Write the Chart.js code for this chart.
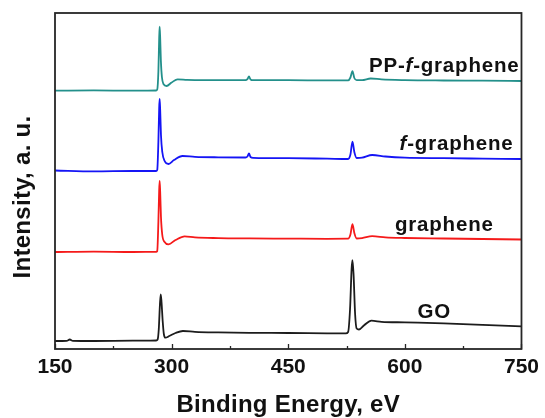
<!DOCTYPE html>
<html><head><meta charset="utf-8">
<script src="https://cdn.jsdelivr.net/npm/chart.js@4"></script>
<style>html,body{margin:0;padding:0;background:#fff}</style>
</head><body>
<canvas id="c" width="545" height="418"></canvas>
<script>
// ---- data (arbitrary intensity units, curves offset) ----
const xTicks = [150, 300, 450, 600, 750];
const xMinorTicks = [225, 375, 525, 675];
const seriesNames = ['PP-f-graphene', 'f-graphene', 'graphene', 'GO'];

const energyPP = [150,200,250,280,281.5,283,284,284.6,285.3,286.2,287.5,289.5,293.5,300,307.7,320,350,395,397.5,399.5,401.5,405,450,500,527,530,532.6,535,538,545,556,570,600,650,700,750];
const intensityPP = [258.3,258.6,258.3,258.5,259.5,278,311,322.3,311,288,272,265,263,266.5,269.7,269.2,268.9,268.8,269.8,272.5,269.5,268.8,268.8,268.6,268.6,271.5,277.8,271,268.8,268.8,270.5,269.6,268.9,268.5,268.3,268];

const energyF = [150,200,250,280,281.5,283,284,284.6,285.3,286.3,288,291,296,303,314,330,360,395,397.5,399.5,401.5,405,450,500,527,530,532.6,535,538,545,558,575,600,650,700,750];
const intensityF = [178.5,177.6,178,178,179,208,241,250,239,214,197,188,185,189,193,192.2,191.7,191.5,192.5,195.5,192,191.2,190.8,190.3,190,194.5,207.3,197,191,191.3,194,192.5,191.3,190.8,190.4,190];

const energyG = [150,200,250,280,281.5,283,284,284.6,285.3,286.3,288,291,296,305,316.7,330,360,400,450,500,527,530,532.6,535,538,545,558,575,600,650,700,750];
const intensityG = [97,97.4,97,97.2,98,128,159,168,157,132,114,107,104.7,109,112.7,111.6,110.9,110.6,110.4,110.2,110.3,114.5,124.8,116,110.5,110.9,112.8,111.6,111,110.5,110,109.5];

const energyGO = [150,165,169,173,200,250,280,282,283.5,285,286,287,288.5,290,292,297,305,314.5,330,360,400,450,500,524,527,529.5,531.5,532.6,534,536,538,541,548,557,570,600,650,700,750];
const intensityGO = [8,8.2,9.5,8.2,8,8.3,8.5,9.5,20,45,54.7,47,28,15,11.3,13,16,18,17.2,16.6,16.2,16,15.7,15.6,17,40,80,88.8,75,35,20.5,19.5,24,28.3,27.2,26.6,25.6,24.2,22.6];

// label anchors (energy, intensity) for the in-plot series labels
const labelEnergy = [553.8, 593.2, 587.3, 616.3];
const labelIntensity = [277.3, 199.3, 118, 31];

const xTitle = 'Binding Energy, eV';
const yTitle = 'Intensity, a. u.';

// ---- chart ----
const colors = ['#23908b', '#1515f5', '#f51a1a', '#1c1c1c'];
const energies = [energyPP, energyF, energyG, energyGO];
const intensities = [intensityPP, intensityF, intensityG, intensityGO];

const datasets = seriesNames.map((name, i) => ({
  label: name,
  data: energies[i].map((e, k) => ({x: e, y: intensities[i][k]})),
  borderColor: colors[i],
  borderWidth: 1.8,
  pointRadius: 0,
  fill: false,
  cubicInterpolationMode: 'monotone'
}));

const FONT = '"Liberation Sans", Arial, Helvetica, sans-serif';

const decor = {
  id: 'decor',
  afterDatasetsDraw(chart) {
    const ctx = chart.ctx;
    const a = chart.chartArea;
    const xs = chart.scales.x, ys = chart.scales.y;
    ctx.save();
    // frame
    ctx.strokeStyle = '#262626';
    ctx.lineWidth = 1.8;
    ctx.strokeRect(a.left, a.top, a.right - a.left, a.bottom - a.top);
    // inward ticks
    ctx.lineWidth = 1.3;
    ctx.beginPath();
    xTicks.forEach(v => { const p = Math.round(xs.getPixelForValue(v)) + 0.5; ctx.moveTo(p, a.bottom); ctx.lineTo(p, a.bottom - 5); });
    xMinorTicks.forEach(v => { const p = Math.round(xs.getPixelForValue(v)) + 0.5; ctx.moveTo(p, a.bottom); ctx.lineTo(p, a.bottom - 3); });
    ctx.stroke();
    // series labels
    ctx.fillStyle = '#111';
    ctx.textBaseline = 'alphabetic';
    ctx.textAlign = 'left';
    try { ctx.letterSpacing = '0.8px'; } catch (e) {}
    seriesNames.forEach((name, i) => {
      let cx = xs.getPixelForValue(labelEnergy[i]);
      const cy = ys.getPixelForValue(labelIntensity[i]);
      const parts = name.split(/(\bf(?=-))/).filter(s => s.length);
      parts.forEach(s => {
        const it = (s === 'f');
        ctx.font = (it ? 'italic ' : '') + 'bold 20.5px ' + FONT;
        ctx.fillText(s, cx, cy);
        cx += ctx.measureText(s).width;
      });
    });
    try { ctx.letterSpacing = '0.3px'; } catch (e) {}
    // axis titles
    ctx.font = 'bold 24px ' + FONT;
    ctx.textAlign = 'center';
    ctx.fillText(xTitle, (a.left + a.right) / 2, 412);
    ctx.translate(29.5, 197);
    ctx.rotate(-Math.PI / 2);
    ctx.fillText(yTitle, 0, 0);
    ctx.restore();
  }
};

new Chart(document.getElementById('c'), {
  type: 'line',
  data: { datasets },
  options: {
    responsive: false,
    animation: false,
    devicePixelRatio: 1,
    layout: { padding: { left: 55, right: 22, top: 13, bottom: 0 } },
    plugins: { legend: { display: false }, tooltip: { enabled: false } },
    scales: {
      x: {
        type: 'linear', position: 'bottom', min: 150, max: 750,
        grid: { display: false, drawTicks: false, tickLength: 0 },
        border: { display: false },
        afterBuildTicks: s => { s.ticks = xTicks.map(v => ({ value: v })); },
        afterFit: s => { s.height = 69; },
        ticks: { color: '#111', padding: 6, maxRotation: 0, autoSkip: false,
                 font: { family: FONT, size: 21, weight: 'bold' } }
      },
      y: { display: false, min: 0, max: 336 }
    }
  },
  plugins: [decor]
});
</script>
</body></html>
